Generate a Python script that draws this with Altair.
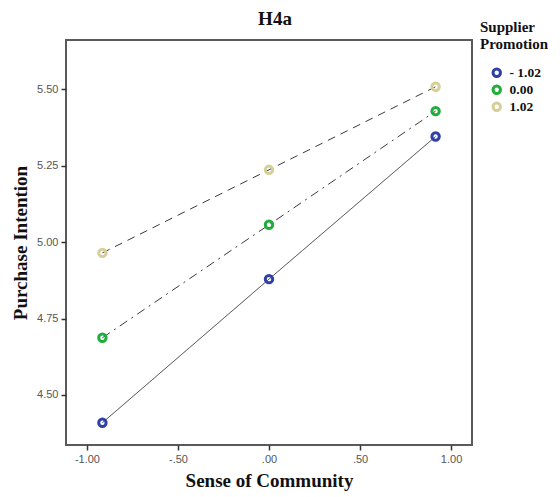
import altair as alt
import pandas as pd

# Data
x_vals = [-0.915, 0.0, 0.915]
series = ["- 1.02", "0.00", "1.02"]
y_low = [4.409, 4.879, 5.346]
y_mid = [4.687, 5.057, 5.429]
y_high = [4.965, 5.237, 5.509]

colors = ["#2f3fa8", "#1fae3a", "#d6cf98"]
dashes = [[1, 0], [9, 5, 2, 5], [8, 6]]

rows = []
for s, ys in zip(series, [y_low, y_mid, y_high]):
    for xv, yv in zip(x_vals, ys):
        rows.append({"x": xv, "y": yv, "group": s})
df = pd.DataFrame(rows)

xscale = alt.Scale(domain=[-1.115, 1.115], nice=False, zero=False)
yscale = alt.Scale(domain=[4.336, 5.662], nice=False, zero=False)

xaxis = alt.Axis(
    values=[-1.0, -0.5, 0.0, 0.5, 1.0],
    labelExpr="datum.value == 0 ? '.00' : (datum.value == -1 ? '-1.00' : (datum.value == 1 ? '1.00' : (datum.value < 0 ? '-.50' : '.50')))",
    title="Sense of Community",
    grid=False,
)
yaxis = alt.Axis(
    values=[4.5, 4.75, 5.0, 5.25, 5.5],
    format=".2f",
    title="Purchase Intention",
    grid=False,
)

base = alt.Chart(df)
line_layers = []
for s, d in zip(series, dashes):
    line_layers.append(
        base.transform_filter(alt.datum.group == s)
        .mark_line(color="#3a3a3a", strokeWidth=1, strokeDash=d)
        .encode(
            x=alt.X("x:Q", scale=xscale, axis=xaxis),
            y=alt.Y("y:Q", scale=yscale, axis=yaxis),
        )
    )

points = base.mark_point(shape="circle", filled=False, strokeWidth=3, size=55, opacity=1).encode(
    x=alt.X("x:Q", scale=xscale, axis=xaxis),
    y=alt.Y("y:Q", scale=yscale, axis=yaxis),
    color=alt.Color(
        "group:N",
        scale=alt.Scale(domain=series, range=colors),
        legend=alt.Legend(
            title=["Supplier", "Promotion"],
            orient="none",
            legendX=414,
            legendY=-20,
            symbolType="circle",
            symbolStrokeWidth=3,
            symbolSize=55,
            symbolOffset=10,
            labelOffset=6,
            rowPadding=-4,
            titlePadding=14,
        ),
    ),
)

chart = (
    alt.layer(*line_layers, points)
    .properties(
        width=406,
        height=405,
        title=alt.Title("H4a", font="Liberation Serif", fontSize=19, fontWeight="bold", color="#111",
                        anchor="middle", offset=0, dy=9, dx=6, frame="group"),
        padding={"left": 58, "top": 32, "right": 80, "bottom": 50},
        autosize=alt.AutoSizeParams(type="none"),
    )
    .configure_view(stroke="#5a5a5a", strokeWidth=2)
    .configure_axis(
        domain=False,
        tickColor="#333",
        tickSize=5,
        tickWidth=1.5,
        labelFont="Liberation Sans",
        labelFontSize=11,
        labelColor="#555",
        labelPadding=3,
        titleFont="Liberation Serif",
        titleFontSize=19,
        titleFontWeight="bold",
        titleColor="#111",
    )
    .configure_axisY(titlePadding=6)
    .configure_axisX(titlePadding=7)
    .configure_legend(
        titleFont="Liberation Serif",
        titleFontSize=15,
        titleFontWeight="bold",
        titleColor="#111",
        titleLineHeight=17,
        labelFont="Liberation Serif",
        labelFontSize=13.5,
        labelFontWeight="bold",
        labelColor="#111",
    )
)

chart.save("out.html", embed_options={"renderer": "svg", "actions": False})
